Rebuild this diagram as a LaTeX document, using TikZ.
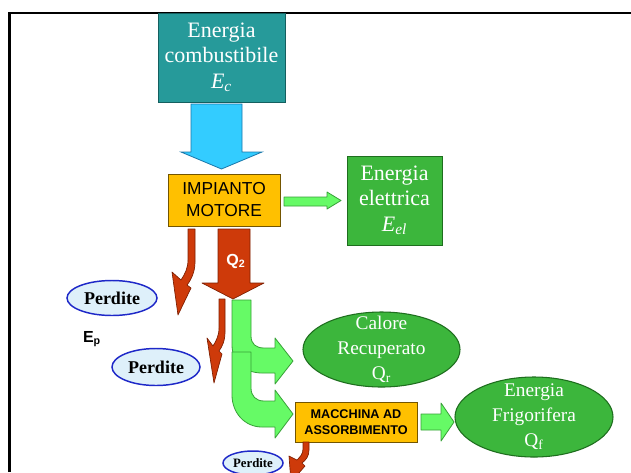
\documentclass[tikz,border=0pt]{standalone}
\usepackage{fontspec}
\setmainfont{Liberation Serif}
\setsansfont{Liberation Sans}
\usetikzlibrary{shapes.geometric}

\definecolor{tealfill}{RGB}{38,154,154}
\definecolor{tealline}{RGB}{20,95,95}
\definecolor{cyanfill}{RGB}{51,204,255}
\definecolor{cyanline}{RGB}{25,120,170}
\definecolor{goldfill}{RGB}{255,192,0}
\definecolor{goldline}{RGB}{115,85,0}
\definecolor{greenfill}{RGB}{60,182,60}
\definecolor{greenline}{RGB}{30,110,30}
\definecolor{flowfill}{RGB}{102,250,102}
\definecolor{flowline}{RGB}{55,160,55}
\definecolor{lossfill}{RGB}{206,58,10}
\definecolor{lossline}{RGB}{125,30,0}
\definecolor{pfill}{RGB}{222,240,250}
\definecolor{pline}{RGB}{30,40,200}

\begin{document}
\begin{tikzpicture}[x=0.75pt,y=-0.75pt,
  srcbox/.style={rectangle, draw=tealline, fill=tealfill, text=white, align=center, inner sep=0pt, line width=0.6pt},
  outbox/.style={rectangle, draw=greenline, fill=greenfill, text=white, align=center, inner sep=0pt, line width=0.6pt},
  engbox/.style={rectangle, draw=goldline, fill=goldfill, align=center, inner sep=0pt, line width=0.7pt, font=\sffamily},
  outell/.style={ellipse, draw=greenline, fill=greenfill, inner sep=0pt, line width=0.8pt},
  elltext/.style={text=white, align=center, font=\fontsize{14.5}{18.75}\selectfont},
  lossell/.style={ellipse, draw=pline, fill=pfill, inner sep=0pt, line width=1.1pt, font=\bfseries},
  bigflow/.style={draw=cyanline, fill=cyanfill, line width=0.6pt},
  heatflow/.style={draw=flowline, fill=flowfill, line width=0.6pt, line join=round},
  lossflow/.style={draw=lossline, fill=lossfill, line width=0.5pt, line join=round}]
	\useasboundingbox (0,0) rectangle (631,472);
	\clip (0,0) rectangle (631,472);
	\fill[white] (0,0) rectangle (631,472);
	\draw[line width=1.9pt] (9.5,472) -- (9.5,13) -- (631,13);

	\node[srcbox, minimum width=95.25pt, minimum height=66.75pt, font=\fontsize{16.5}{19}\selectfont] (comb) at (221.5,57.5) {Energia\\combustibile\\\textit{E}\textsubscript{\textit{c}}};
	\node[engbox, minimum width=84pt, minimum height=39pt, font=\sffamily\fontsize{13}{16.5}\selectfont] (motore) at (224,200) {IMPIANTO\\MOTORE};
	\node[outbox, minimum width=71.25pt, minimum height=66.75pt, font=\fontsize{16.5}{19}\selectfont] (elett) at (394.5,200.5) {Energia\\elettrica\\\textit{E}\textsubscript{\textit{el}}};
	\node[outell, minimum width=117.75pt, minimum height=56.25pt] (recup) at (381.5,349.5) {};
	\node[elltext] at (recup) {Calore\\Recuperato\\Q\textsubscript{r}};
	\node[engbox, minimum width=91.5pt, minimum height=30pt, font=\sffamily\bfseries\fontsize{9.5}{12.5}\selectfont] (assorb) at (356,422) {MACCHINA AD\\ASSORBIMENTO};
	\node[outell, minimum width=118.5pt, minimum height=60pt] (frigo) at (534,417) {};
	\node[elltext] at (frigo) {Energia\\Frigorifera\\Q\textsubscript{f}};
	\node[lossell, minimum width=67.5pt, minimum height=26.25pt, font=\bfseries\fontsize{13.5}{16}\selectfont] (perd1) at (112,298) {Perdite};
	\node[lossell, minimum width=66pt, minimum height=27.75pt, font=\bfseries\fontsize{13.5}{16}\selectfont] (perd2) at (156,367) {Perdite};
	\node[lossell, minimum width=45pt, minimum height=18pt, font=\bfseries\fontsize{9.6}{11}\selectfont] (perd3) at (253,463) {Perdite};
	\node[font=\sffamily\bfseries\fontsize{12}{14}\selectfont] (ep) at (92,339) {E\textsubscript{p}};

	\draw[bigflow] (191,104) -- (242,104) -- (242,152) -- (262,152) -- (221.5,169) -- (181,152) -- (191,152) -- cycle;
	\draw[heatflow] (284,197) -- (327,197) -- (327,192) -- (341,200.5) -- (327,209) -- (327,206) -- (284,206) -- cycle;
	\draw[lossflow] (218,229) -- (250,229) -- (250,283) -- (264,283) -- (233,299) -- (202,283) -- (218,283) -- cycle;
	\node[text=white, font=\sffamily\bfseries\fontsize{12}{14}\selectfont] (q2) at (236,261) {Q\textsubscript{2}};

	\draw[lossflow] (188,229) -- (195,229) -- (195,262) .. controls (195,272) and (191,280) .. (187,285) -- (191,288) -- (178,315) -- (172,272) -- (181,280) .. controls (185,274) and (188,268) .. (188,260) -- cycle;
	\draw[lossflow] (219,299) -- (225,299) -- (225,332) .. controls (225,341) and (222,347) .. (219,351) -- (222,354) -- (214,383) -- (207,338) -- (213,346) .. controls (216,341) and (219,336) .. (219,328) -- cycle;
	\draw[lossflow] (303,442) -- (309,442) -- (309,450) .. controls (309,456) and (306,460) .. (302,463) -- (305,466) -- (291,482) -- (289,456) -- (297,460) .. controls (300,457) and (303,454) .. (303,449) -- cycle;

	\draw[heatflow] (232,300) -- (251,300) -- (251,336) .. controls (251,344) and (256,348) .. (264,348) -- (275,348) -- (275,338) -- (293,361) -- (275,384) -- (275,373) -- (262,373) .. controls (245,373) and (232,362) .. (232,345) -- cycle;
	\draw[heatflow] (232,352) -- (251,352) -- (251,388) .. controls (251,396) and (256,401) .. (264,401) -- (275,401) -- (275,390) -- (293,414) -- (275,438) -- (275,427) -- (262,427) .. controls (245,427) and (232,413) .. (232,395) -- cycle;
	\draw[heatflow] (421,414) -- (441,414) -- (441,403) -- (454,422) -- (441,441) -- (441,430) -- (421,430) -- cycle;
\end{tikzpicture}
\end{document}
